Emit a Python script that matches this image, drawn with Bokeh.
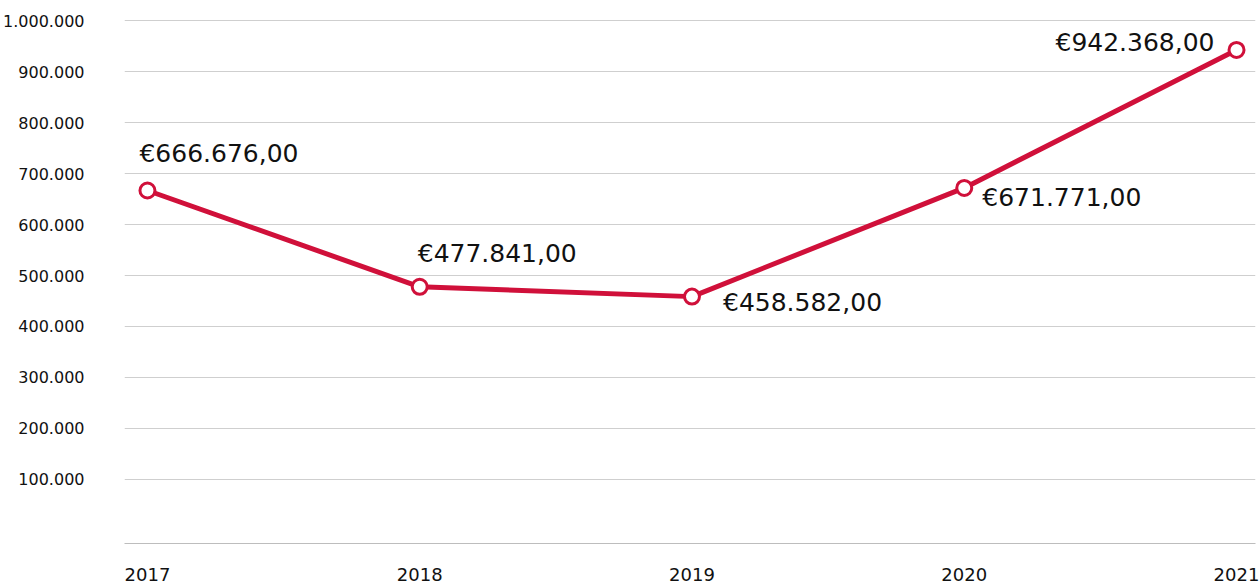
from bokeh.plotting import figure
from bokeh.models import ColumnDataSource, FixedTicker, Range1d
from bokeh.core.properties import value
from bokeh.embed import file_html
from bokeh.resources import INLINE

years = ["2017", "2018", "2019", "2020", "2021"]
amounts = [666676, 477841, 458582, 671771, 942368]
amount_labels = ["€666.676,00", "€477.841,00", "€458.582,00", "€671.771,00", "€942.368,00"]
y_ticks = [100000, 200000, 300000, 400000, 500000, 600000, 700000, 800000, 900000, 1000000]
y_tick_labels = ["100.000", "200.000", "300.000", "400.000", "500.000",
                 "600.000", "700.000", "800.000", "900.000", "1.000.000"]

# label layout (pixel offsets, alignment)
label_dx = [-8, -2, 31, 18, -22]
label_dy = [-37, -33, 6, 10, -7]
label_align = ["left", "left", "left", "left", "right"]

FONT = "DejaVu Sans"
RED = "#d0103a"

xs = list(range(len(years)))
src = ColumnDataSource(dict(x=xs, y=amounts, label=amount_labels,
                            dx=label_dx, dy=label_dy, align=label_align))

p = figure(width=1260, height=584, output_backend="svg", toolbar_location=None,
           x_range=Range1d(-0.0843, 4.0697), y_range=Range1d(-25500, 1015700),
           min_border_left=122, min_border_right=5, min_border_top=12, min_border_bottom=41)
p.outline_line_color = None
p.background_fill_color = "white"
p.border_fill_color = "white"

p.xgrid.grid_line_color = None
p.ygrid.grid_line_color = "#cfcfcf"
p.ygrid.grid_line_width = 1
p.ygrid.ticker = FixedTicker(ticks=y_ticks)

p.yaxis.ticker = FixedTicker(ticks=y_ticks)
p.yaxis.major_label_overrides = {t: l for t, l in zip(y_ticks, y_tick_labels)}
p.yaxis.axis_line_color = None
p.yaxis.major_tick_line_color = None
p.yaxis.minor_tick_line_color = None
p.yaxis.major_label_standoff = 34
p.yaxis.major_label_text_font = FONT
p.yaxis.major_label_text_font_size = "16px"
p.yaxis.major_label_text_color = "#111111"

p.xaxis.ticker = FixedTicker(ticks=xs)
p.xaxis.major_label_overrides = {i: y for i, y in zip(xs, years)}
p.xaxis.axis_line_color = "#bdbdbd"
p.xaxis.axis_line_width = 1
p.xaxis.major_tick_line_color = None
p.xaxis.minor_tick_line_color = None
p.xaxis.major_label_standoff = 18
p.xaxis.major_label_text_font = FONT
p.xaxis.major_label_text_font_size = "18px"
p.xaxis.major_label_text_color = "#111111"

p.line("x", "y", source=src, line_color=RED, line_width=5)
p.scatter("x", "y", source=src, size=15, fill_color="white", line_color=RED, line_width=3)

p.text("x", "y", text="label", source=src, x_offset="dx", y_offset="dy",
       text_align="align", text_baseline="middle",
       text_font=value(FONT), text_font_size="25px", text_color="#111111")

open("out.html", "w").write(file_html(p, INLINE))
